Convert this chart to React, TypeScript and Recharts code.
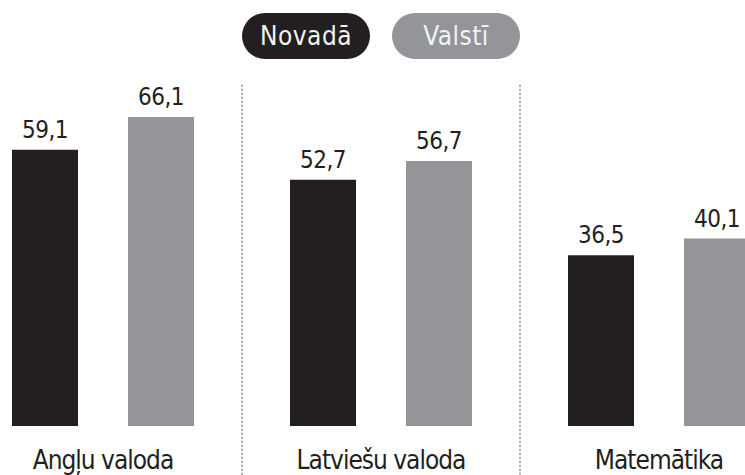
import React from 'react'
import { BarChart, Bar, XAxis, YAxis, LabelList, Legend, ReferenceLine } from 'recharts'

const subjects = ['Angļu valoda', 'Latviešu valoda', 'Matemātika']
const novada = [59.1, 52.7, 36.5]
const valsti = [66.1, 56.7, 40.1]
// dotted dividers sit at the start of these categories
const dividers = ['Latviešu valoda', 'Matemātika']

const data = subjects.map((subject, i) => ({ subject, novada: novada[i], valsti: valsti[i] }))

const FONT = '"DejaVu Sans Condensed", "DejaVu Sans", sans-serif'
const BLACK = '#231f20'
const GRAY = '#939598'

const fmt = (v: number) => v.toFixed(1).replace('.', ',')

function LegendPills() {
  const items = [
    { label: 'Novadā', color: BLACK },
    { label: 'Valstī', color: GRAY },
  ]
  return (
    <div style={{ display: 'flex', justifyContent: 'center', gap: 22 }}>
      {items.map((it) => (
        <div
          key={it.label}
          style={{
            width: 128,
            height: 46,
            borderRadius: 23,
            background: it.color,
            color: '#f2f2f2',
            fontFamily: FONT,
            fontSize: 26,
            letterSpacing: 0.5,
            lineHeight: '46px',
            textAlign: 'center',
          }}
        >
          {it.label}
        </div>
      ))}
    </div>
  )
}

function SubjectTick(props: any) {
  const { x, y, payload } = props
  return (
    <text x={x} y={y + 35} textAnchor="middle" fontFamily={FONT} fontSize={26} letterSpacing={-1} fill={BLACK}>
      {payload.value}
    </text>
  )
}

export default function App() {
  return (
    <div style={{ position: 'absolute', left: 0, top: 0, width: 745, height: 475, overflow: 'hidden', background: '#fff' }}>
      <div style={{ marginLeft: -36 }}>
        <BarChart
          width={834}
          height={475}
          data={data}
          margin={{ top: 52, right: 0, bottom: 0, left: 0 }}
          barCategoryGap={48}
          barGap={50}
        >
          <XAxis dataKey="subject" axisLine={false} tickLine={false} tick={<SubjectTick />} height={49} interval={0} />
          <YAxis domain={[0, 80]} hide />
          <Legend
            verticalAlign="middle"
            content={<LegendPills />}
            wrapperStyle={{ top: 13, left: 0, width: 834 }}
          />
          {dividers.map((d) => (
            <ReferenceLine
              key={d}
              position="start"
              segment={[{ x: d, y: 73 }, { x: d, y: -11 }]}
              ifOverflow="visible"
              stroke="#888"
              strokeWidth={1.5}
              strokeDasharray="2 2"
            />
          ))}
          <Bar dataKey="novada" fill={BLACK} barSize={66} isAnimationActive={false}>
            <LabelList dataKey="novada" position="top" offset={12} formatter={fmt} fontFamily={FONT} fontSize={24} letterSpacing={-0.5} fill={BLACK} />
          </Bar>
          <Bar dataKey="valsti" fill={GRAY} barSize={66} isAnimationActive={false}>
            <LabelList dataKey="valsti" position="top" offset={12} formatter={fmt} fontFamily={FONT} fontSize={24} letterSpacing={-0.5} fill={BLACK} />
          </Bar>
        </BarChart>
      </div>
    </div>
  )
}
